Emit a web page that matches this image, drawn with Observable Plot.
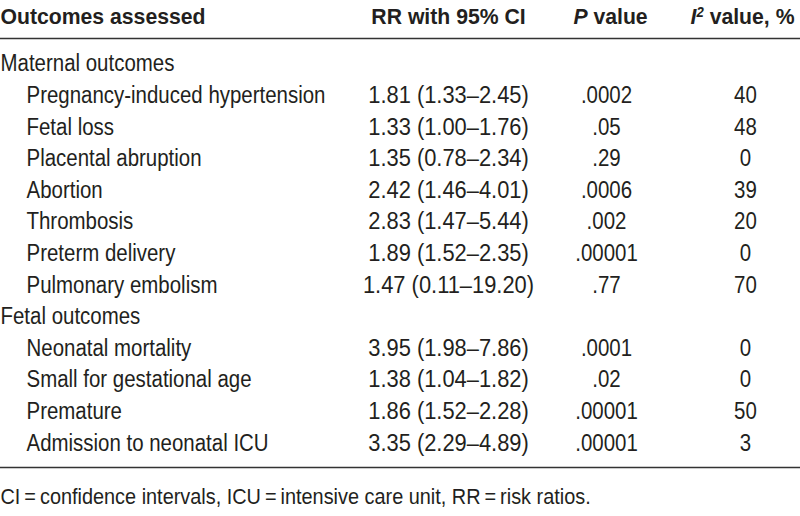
<!DOCTYPE html>
<html>
<head>
<meta charset="utf-8">
<script src="https://cdn.jsdelivr.net/npm/d3@7"></script>
<script src="https://cdn.jsdelivr.net/npm/@observablehq/plot@0.6"></script>
<style>
  html, body { margin: 0; padding: 0; background: #fff; }
  #chart svg { display: block; }
</style>
</head>
<body>
<div id="chart"></div>
<script>
// ---- data ----
const headers = ["Outcomes assessed", "RR with 95% CI", "P value", "I2 value, %"];
const groups = ["Maternal outcomes", "Fetal outcomes"];
const outcomes = [
  "Pregnancy-induced hypertension", "Fetal loss", "Placental abruption", "Abortion",
  "Thrombosis", "Preterm delivery", "Pulmonary embolism",
  "Neonatal mortality", "Small for gestational age", "Premature", "Admission to neonatal ICU"
];
const outcomeGroup = [0, 0, 0, 0, 0, 0, 0, 1, 1, 1, 1];
const rr     = [1.81, 1.33, 1.35, 2.42, 2.83, 1.89, 1.47, 3.95, 1.38, 1.86, 3.35];
const rrLow  = [1.33, 1.00, 0.78, 1.46, 1.47, 1.52, 0.11, 1.98, 1.04, 1.52, 2.29];
const rrHigh = [2.45, 1.76, 2.34, 4.01, 5.44, 2.35, 19.20, 7.86, 1.82, 2.28, 4.89];
const pValues = [".0002", ".05", ".29", ".0006", ".002", ".00001", ".77", ".0001", ".02", ".00001", ".00001"];
const i2 = [40, 48, 0, 39, 20, 0, 70, 0, 0, 50, 3];
const footnote = "CI\u2009=\u2009confidence intervals, ICU\u2009=\u2009intensive care unit, RR\u2009=\u2009risk ratios.";

// ---- build table rows ----
const rows = [];
groups.forEach((g, gi) => {
  rows.push({kind: "group", label: g});
  outcomes.forEach((o, i) => {
    if (outcomeGroup[i] !== gi) return;
    rows.push({
      kind: "item", label: o,
      rr: `${rr[i].toFixed(2)} (${rrLow[i].toFixed(2)}\u2013${rrHigh[i].toFixed(2)})`,
      p: pValues[i], i2: String(i2[i])
    });
  });
});
rows.forEach((r, i) => r.row = i);

// layout
const W = 800, H = 516;
const rowY0 = 63.5, rowStep = 31.6;
const yOf = r => rowY0 + r.row * rowStep;
const colRR = 448, colP = 606, colI2 = 745;
const font = "'Liberation Sans', Arial, sans-serif";
const ink = "#231f20";

const headerData = [
  {t: headers[0], x: 0, anchor: "start", cls: "h0"},
  {t: headers[1], x: colRR, anchor: "middle", cls: "h1"},
  {t: headers[2], x: 610, anchor: "middle", cls: "h2"},
  {t: headers[3], x: 742, anchor: "middle", cls: "h3"}
];

const chart = Plot.plot({
  width: W, height: H,
  margin: 0,
  x: {type: "linear", domain: [0, W], range: [0, W], axis: null},
  y: {type: "linear", domain: [0, H], range: [0, H], axis: null},
  style: {fontFamily: font, color: ink, background: "#fff"},
  marks: [
    Plot.ruleY([38, 467], {y: d => d, x1: 0, x2: W, stroke: "#333", strokeWidth: 1.6}),
    ...headerData.map(h => Plot.text([h], {
      x: "x", y: () => 16, text: "t", textAnchor: h.anchor,
      fontSize: 22.5, fontWeight: "bold", fill: ink, className: "hdr " + h.cls
    })),
    Plot.text(rows, {
      x: d => d.kind === "group" ? 0 : 26, y: yOf, text: "label",
      textAnchor: "start", fontSize: 23, fill: ink, className: "body lbl"
    }),
    Plot.text(rows.filter(r => r.kind === "item"), {
      x: () => colRR, y: yOf, text: "rr", textAnchor: "middle", fontSize: 23, fill: ink, className: "num"
    }),
    Plot.text(rows.filter(r => r.kind === "item"), {
      x: () => colP, y: yOf, text: "p", textAnchor: "middle", fontSize: 23, fill: ink, className: "body"
    }),
    Plot.text(rows.filter(r => r.kind === "item"), {
      x: () => colI2, y: yOf, text: "i2", textAnchor: "middle", fontSize: 23, fill: ink, className: "body"
    }),
    Plot.text([footnote], {
      x: () => 0, y: () => 497, text: d => d, textAnchor: "start", fontSize: 21.5, fill: ink, className: "foot"
    })
  ]
});

document.getElementById("chart").appendChild(chart);

// rich text in headers: italic P, italic I with superscript 2
const svg = d3.select(chart);
const h2 = svg.select("g.h2 text");
h2.text(null);
h2.append("tspan").attr("font-style", "italic").text("P");
h2.append("tspan").text(" value");
const h3 = svg.select("g.h3 text");
h3.text(null);
h3.append("tspan").attr("font-style", "italic").text("I");
h3.append("tspan").attr("font-size", "0.62em").attr("dy", "-0.48em").attr("font-style", "italic").text("2");
h3.append("tspan").attr("dy", "0.3em").text(" value, %");

// condensed face: compress glyphs horizontally to the reference proportions
function condense(sel, k) {
  sel.each(function () {
    const len = this.getComputedTextLength();
    this.setAttribute("textLength", (len * k).toFixed(2));
    this.setAttribute("lengthAdjust", "spacingAndGlyphs");
  });
}
let kBody = 0.82;
svg.selectAll("g.lbl text").each(function () {
  if (this.textContent === "Pregnancy-induced hypertension") kBody = 299 / this.getComputedTextLength();
});
let kBold = 0.82;
const h0 = svg.select("g.h0 text").node();
if (h0) kBold = 205 / h0.getComputedTextLength();
condense(svg.selectAll("g.body text"), kBody);
condense(svg.selectAll("g.num text"), kBody * 1.07);
condense(svg.selectAll("g.foot text"), kBody * 1.04);
condense(svg.selectAll("g.hdr text"), kBold);
</script>
</body>
</html>
